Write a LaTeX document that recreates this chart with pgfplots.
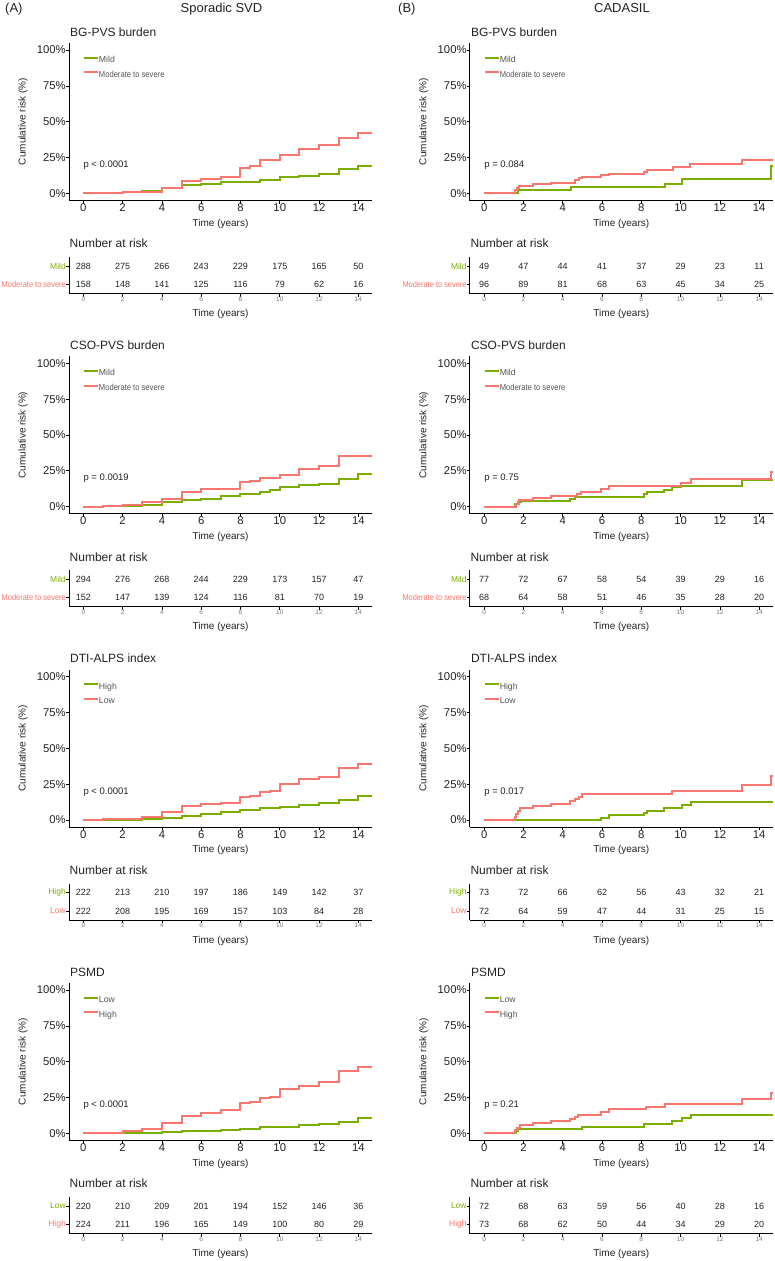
\documentclass[border=0pt]{standalone}
\usepackage{fontspec}
\setmainfont{Liberation Sans}
\usepackage{graphicx}
\usepackage{xcolor}
\usepackage{pgfplots}
\pgfplotsset{compat=1.18}

\definecolor{kmgreen}{HTML}{7CAE00}
\definecolor{kmred}{HTML}{F8766D}
\definecolor{legtext}{HTML}{555555}
\definecolor{darktext}{HTML}{222222}
\definecolor{smalltick}{HTML}{7A7A7A}

\newcommand\fHead{\fontsize{13}{15}\selectfont}
\newcommand\fTitle{\fontsize{12}{14}\selectfont}
\newcommand\fTick{\fontsize{11.3}{13}\selectfont}
\newcommand\fLab{\fontsize{10}{12}\selectfont}
\newcommand\fLeg{\fontsize{8.7}{10}\selectfont}
\newcommand\fP{\fontsize{9.5}{11}\selectfont}
\newcommand\fNum{\fontsize{9}{11}\selectfont}
\newcommand\fRow{\fontsize{8.5}{10}\selectfont}
\newcommand\fSmall{\fontsize{6.5}{8}\selectfont}
\newcommand\modsev{\scalebox{0.875}[1]{Moderate to severe}}

\pgfplotsset{
  /pgf/number format/assume math mode=true,
  kmaxis/.style={
    scale only axis, anchor=south west,
    width=303.1pt, height=157.6pt,
    xmin=-0.73, xmax=14.7, ymin=-0.05, ymax=1.05,
    axis lines*=left,
    axis line style={-, line width=0.9pt, black},
    tick align=outside, major tick length=3pt,
    tick style={line width=0.7pt, black},
    xtick={0,2,...,14},
    ytick={0,0.25,0.5,0.75,1},
    yticklabels={0\%,25\%,50\%,75\%,100\%},
    ticklabel style={font=\fTick, text=darktext, inner sep=0pt},
    xticklabel style={anchor=north},
    yticklabel style={anchor=east},
    xlabel={Time (years)}, ylabel={Cumulative risk (\%)},
    every axis x label/.style={at={(axis description cs:0.5,-0.1472)}, anchor=center, font=\fLab, text=darktext},
    every axis y label/.style={at={(axis description cs:-0.1518,0.5)}, rotate=90, anchor=center, font=\fLab, text=darktext},
    legend style={at={(axis cs:-0.03,0.958)}, anchor=north west, draw=none, fill=none,
      font=\fLeg, text=legtext, inner sep=0pt, row sep=6.4pt,
      nodes={inner sep=0pt, text height=6.3pt, text depth=1.8pt}},
    legend cell align=left,
    every even column/.style={column sep=4pt},
    legend image code/.code={\draw[##1] (0pt,2.6pt) -- (14pt,2.6pt);},
  },
  kmg/.style={kmgreen, line width=2pt, const plot},
  kmr/.style={kmred, line width=2pt, const plot},
  riskaxis/.style={
    scale only axis, anchor=south west,
    width=303.1pt, height=36.6pt,
    xmin=-0.73, xmax=14.7, ymin=0.5, ymax=2.5,
    axis lines*=left,
    axis line style={-, line width=0.9pt, black},
    tick align=outside, major tick length=3pt,
    tick style={line width=0.7pt, black},
    xtick={0,2,...,14}, ytick={1,2},
    xticklabel style={font=\fSmall, text=smalltick, inner sep=0pt, anchor=north},
    yticklabel style={font=\fRow, inner sep=0pt, anchor=east},
    xlabel={Time (years)},
    every axis x label/.style={at={(axis description cs:0.5,-0.56)}, anchor=center, font=\fLab, text=darktext},
    clip=false,
  },
  risknums/.style={draw=none, nodes near coords, point meta=explicit symbolic,
    every node near coord/.append style={anchor=center, font=\fNum, text=darktext, inner sep=0pt}},
}

% #1 x offset, #2 y offset, #3 title, #4 p-value, #5/#6 legend entries, #7/#8 step curves
\newcommand{\kmpanel}[8]{%
  \node[anchor=base west, font=\fTitle, text=darktext, inner sep=0pt] at ({70pt+#1pt},{-36pt-#2pt}) {#3};
  \begin{axis}[kmaxis, at={({69pt+#1pt},{-200.5pt-#2pt})}]
    \addplot[kmg] coordinates {#7};
    \addplot[kmr] coordinates {#8};
    \node[anchor=west, font=\fP, text=darktext, inner sep=0pt] at (axis cs:0,0.197) {#4};
    \legend{#5,#6}
  \end{axis}
}

% #1 x offset, #2 y offset, #3 upper row label, #4 lower row label, #5 upper counts, #6 lower counts
\newcommand{\riskpanel}[6]{%
  \node[anchor=base west, font=\fTitle, text=darktext, inner sep=0pt] at ({69.5pt+#1pt},{-247.7pt-#2pt}) {Number at risk};
  \begin{axis}[riskaxis, at={({69pt+#1pt},{-293.5pt-#2pt})},
      yticklabels={\textcolor{kmred}{#4},\textcolor{kmgreen}{#3}}]
    \addplot[risknums] coordinates {#5};
    \addplot[risknums] coordinates {#6};
  \end{axis}
}

\begin{document}
\begin{tikzpicture}
\useasboundingbox (0,0) rectangle (774pt,-1261pt);

\node[anchor=base west, font=\fHead, text=darktext, inner sep=0pt] at (5pt,-12.5pt) {(A)};
\node[anchor=base, font=\fHead, text=darktext, inner sep=0pt] at (221.5pt,-12.5pt) {Sporadic SVD};
\node[anchor=base west, font=\fHead, text=darktext, inner sep=0pt] at (398pt,-12.5pt) {(B)};
\node[anchor=base, font=\fHead, text=darktext, inner sep=0pt] at (622pt,-12.5pt) {CADASIL};

% ---------------- Sporadic SVD ----------------
\kmpanel{0}{0}{BG-PVS burden}{p < 0.0001}{Mild}{\modsev}
  {(0,0) (1,0.004) (2,0.008) (3,0.018) (4,0.035) (5,0.056) (6,0.068) (7,0.079) (8,0.082) (9,0.096) (10,0.113) (11,0.124) (12,0.137) (13,0.173) (14,0.193) (14.7,0.193)}
  {(0,0) (2,0.008) (4,0.04) (5,0.086) (6,0.10) (7,0.114) (8,0.18) (8.5,0.192) (9,0.23) (10,0.27) (11,0.31) (12,0.334) (13,0.383) (14,0.42) (14.7,0.42)}
\riskpanel{0}{0}{Mild}{\modsev}
  {(0,2)[288] (2,2)[275] (4,2)[266] (6,2)[243] (8,2)[229] (10,2)[175] (12,2)[165] (14,2)[50]}
  {(0,1)[158] (2,1)[148] (4,1)[141] (6,1)[125] (8,1)[116] (10,1)[79] (12,1)[62] (14,1)[16]}

\kmpanel{0}{313.3}{CSO-PVS burden}{p = 0.0019}{Mild}{\modsev}
  {(0,0) (1,0.003) (2,0.005) (3,0.01) (4,0.03) (5,0.045) (6,0.055) (7,0.075) (8,0.085) (9,0.105) (9.5,0.115) (10,0.138) (11,0.15) (12,0.16) (13,0.19) (14,0.227) (14.7,0.227)}
  {(0,0) (1,0.005) (2,0.01) (3,0.035) (4,0.055) (5,0.10) (6,0.12) (8,0.17) (8.5,0.18) (9,0.20) (10,0.22) (11,0.265) (12,0.285) (13,0.355) (14.7,0.355)}
\riskpanel{0}{313.3}{Mild}{\modsev}
  {(0,2)[294] (2,2)[276] (4,2)[268] (6,2)[244] (8,2)[229] (10,2)[173] (12,2)[157] (14,2)[47]}
  {(0,1)[152] (2,1)[147] (4,1)[139] (6,1)[124] (8,1)[116] (10,1)[81] (12,1)[70] (14,1)[19]}

\kmpanel{0}{626.7}{DTI-ALPS index}{p < 0.0001}{High}{Low}
  {(0,0) (2,0.003) (3,0.005) (4,0.015) (5,0.03) (6,0.045) (7,0.056) (8,0.072) (9,0.084) (10,0.091) (11,0.103) (12,0.117) (13,0.14) (14,0.168) (14.7,0.168)}
  {(0,0) (1,0.005) (2,0.01) (3,0.02) (4,0.055) (5,0.095) (6,0.11) (7,0.12) (8,0.16) (8.5,0.168) (9,0.195) (9.5,0.203) (10,0.25) (11,0.285) (12,0.30) (13,0.365) (14,0.388) (14.7,0.388)}
\riskpanel{0}{626.7}{High}{Low}
  {(0,2)[222] (2,2)[213] (4,2)[210] (6,2)[197] (8,2)[186] (10,2)[149] (12,2)[142] (14,2)[37]}
  {(0,1)[222] (2,1)[208] (4,1)[195] (6,1)[169] (8,1)[157] (10,1)[103] (12,1)[84] (14,1)[28]}

\kmpanel{0}{940}{PSMD}{p < 0.0001}{Low}{High}
  {(0,0) (2,0.002) (4,0.007) (5,0.015) (6,0.018) (7,0.025) (8,0.03) (9,0.042) (10,0.043) (11,0.06) (12,0.067) (13,0.08) (14,0.105) (14.7,0.105)}
  {(0,0) (1,0.005) (2,0.015) (3,0.03) (4,0.075) (5,0.12) (6,0.145) (7,0.16) (8,0.21) (8.5,0.22) (9,0.245) (9.5,0.255) (10,0.31) (11,0.33) (12,0.355) (13,0.435) (14,0.46) (14.7,0.46)}
\riskpanel{0}{940}{Low}{High}
  {(0,2)[220] (2,2)[210] (4,2)[209] (6,2)[201] (8,2)[194] (10,2)[152] (12,2)[146] (14,2)[36]}
  {(0,1)[224] (2,1)[211] (4,1)[196] (6,1)[165] (8,1)[149] (10,1)[100] (12,1)[80] (14,1)[29]}

% ---------------- CADASIL ----------------
\kmpanel{400.8}{0}{BG-PVS burden}{p = 0.084}{Mild}{\modsev}
  {(0,0) (1.7,0.02) (4.4,0.042) (9.2,0.068) (10.05,0.102) (14.58,0.19) (14.7,0.19)}
  {(0,0) (1.56,0.02) (1.65,0.035) (1.75,0.05) (2.47,0.063) (3.39,0.075) (4.6,0.093) (4.85,0.105) (5.0,0.112) (5.97,0.126) (6.34,0.138) (8.14,0.15) (8.27,0.163) (9.59,0.182) (10.5,0.203) (13.14,0.231) (14.7,0.231)}
\riskpanel{400.8}{0}{Mild}{\modsev}
  {(0,2)[49] (2,2)[47] (4,2)[44] (6,2)[41] (8,2)[37] (10,2)[29] (12,2)[23] (14,2)[11]}
  {(0,1)[96] (2,1)[89] (4,1)[81] (6,1)[68] (8,1)[63] (10,1)[45] (12,1)[34] (14,1)[25]}

\kmpanel{400.8}{313.3}{CSO-PVS burden}{p = 0.75}{Mild}{\modsev}
  {(0,0) (1.58,0.02) (1.7,0.035) (1.9,0.04) (4.37,0.055) (4.64,0.069) (8.15,0.085) (8.27,0.105) (9.15,0.118) (9.56,0.135) (10.0,0.144) (13.14,0.183) (14.7,0.183)}
  {(0,0) (1.6,0.02) (1.75,0.045) (2.47,0.058) (3.39,0.075) (4.75,0.09) (4.92,0.105) (5.97,0.122) (6.34,0.142) (10.03,0.163) (10.53,0.19) (14.6,0.24) (14.7,0.24)}
\riskpanel{400.8}{313.3}{Mild}{\modsev}
  {(0,2)[77] (2,2)[72] (4,2)[67] (6,2)[58] (8,2)[54] (10,2)[39] (12,2)[29] (14,2)[16]}
  {(0,1)[68] (2,1)[64] (4,1)[58] (6,1)[51] (8,1)[46] (10,1)[35] (12,1)[28] (14,1)[20]}

\kmpanel{400.8}{626.7}{DTI-ALPS index}{p = 0.017}{High}{Low}
  {(0,0) (5.97,0.016) (6.34,0.032) (8.15,0.047) (8.27,0.065) (9.17,0.082) (10.05,0.103) (10.53,0.129) (14.7,0.129)}
  {(0,0) (1.55,0.02) (1.6,0.045) (1.7,0.065) (1.8,0.085) (2.47,0.10) (3.39,0.115) (4.37,0.13) (4.64,0.147) (4.81,0.163) (5.0,0.18) (9.58,0.203) (13.14,0.245) (14.6,0.305) (14.7,0.305)}
\riskpanel{400.8}{626.7}{High}{Low}
  {(0,2)[73] (2,2)[72] (4,2)[66] (6,2)[62] (8,2)[56] (10,2)[43] (12,2)[32] (14,2)[21]}
  {(0,1)[72] (2,1)[64] (4,1)[59] (6,1)[47] (8,1)[44] (10,1)[31] (12,1)[25] (14,1)[15]}

\kmpanel{400.8}{940}{PSMD}{p = 0.21}{Low}{High}
  {(0,0) (1.6,0.015) (1.7,0.03) (5.0,0.045) (8.15,0.063) (9.56,0.084) (10.05,0.107) (10.53,0.13) (14.7,0.13)}
  {(0,0) (1.55,0.02) (1.65,0.035) (1.8,0.058) (2.47,0.07) (3.39,0.086) (4.37,0.10) (4.64,0.115) (4.78,0.13) (5.97,0.147) (6.34,0.167) (8.24,0.185) (9.19,0.207) (13.14,0.24) (14.6,0.285) (14.7,0.285)}
\riskpanel{400.8}{940}{Low}{High}
  {(0,2)[72] (2,2)[68] (4,2)[63] (6,2)[59] (8,2)[56] (10,2)[40] (12,2)[28] (14,2)[16]}
  {(0,1)[73] (2,1)[68] (4,1)[62] (6,1)[50] (8,1)[44] (10,1)[34] (12,1)[29] (14,1)[20]}

\end{tikzpicture}
\end{document}
